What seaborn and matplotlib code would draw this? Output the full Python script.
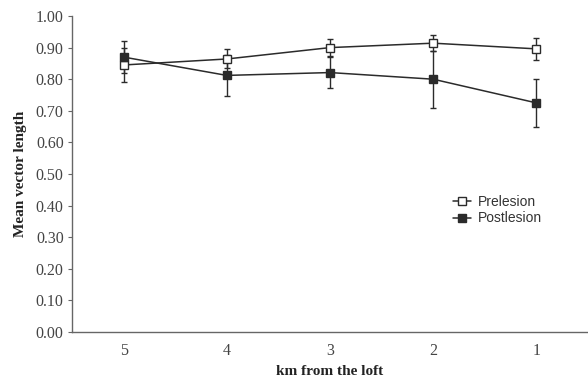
import numpy as np
import pandas as pd
import matplotlib
matplotlib.use('Agg')
import matplotlib.pyplot as plt
import seaborn as sns

km = ['5', '4', '3', '2', '1']
pre_mean = [0.845, 0.864, 0.900, 0.914, 0.896]
pre_err = [0.055, 0.030, 0.027, 0.026, 0.035]
post_mean = [0.870, 0.812, 0.821, 0.800, 0.725]
post_err = [0.050, 0.066, 0.050, 0.090, 0.077]

sns.set_style('white')
plt.rcParams['font.family'] = ['Liberation Serif', 'DejaVu Serif']

df = pd.DataFrame({
    'km': km * 2,
    'mvl': pre_mean + post_mean,
    'err': pre_err + post_err,
    'group': ['Prelesion'] * 5 + ['Postlesion'] * 5,
})

fig = plt.figure(figsize=(5.88, 3.83), dpi=100)
ax = fig.add_axes([72 / 588, 1 - 332 / 383, 1 - 72 / 588, (332 - 16) / 383])

ink = '#2b2b2b'
styles = {'Prelesion': 'white', 'Postlesion': ink}
for name, face in styles.items():
    sub = df[df['group'] == name]
    ax.errorbar(sub['km'], sub['mvl'], yerr=sub['err'], fmt='none',
                ecolor=ink, elinewidth=1.0, capsize=2.5, capthick=1.0, zorder=2)
for name, face in styles.items():
    sub = df[df['group'] == name]
    sns.lineplot(data=sub, x='km', y='mvl', ax=ax, color=ink, lw=1.1,
                 marker='s', markersize=6, markerfacecolor=face,
                 markeredgecolor=ink, markeredgewidth=1.0, label=name,
                 sort=False, zorder=3)

ax.set_xlim(-0.5, 4.5)
ax.set_ylim(0, 1.0)
ax.set_yticks(np.arange(0, 1.01, 0.1))
ax.set_yticklabels([f'{v:.2f}' for v in np.arange(0, 1.01, 0.1)])
ax.set_xticks(range(5))
ax.set_xticklabels(km)
ax.set_xticks(np.arange(0.5, 4.6, 1.0), minor=True)
ax.tick_params(axis='x', which='major', length=0, pad=8, labelsize=11.5, colors='#444')
ax.tick_params(axis='x', which='minor', length=3, width=0.8, color='#666', direction='inout')
ax.tick_params(axis='y', length=3, width=0.8, color='#666', pad=3, labelsize=11.5, labelcolor='#444', left=True)

for s in ['top', 'right']:
    ax.spines[s].set_visible(False)
for s in ['left', 'bottom']:
    ax.spines[s].set_color('#666')
    ax.spines[s].set_linewidth(1.0)

ax.set_xlabel('km from the loft', fontsize=11, fontweight='bold', labelpad=4, color='#222')
ax.set_ylabel('Mean vector length', fontsize=11, fontweight='bold', labelpad=6, color='#222')

leg = ax.legend(loc='center left', bbox_to_anchor=(0.728, 0.385), frameon=False,
                prop={'family': 'Liberation Sans', 'size': 10}, handlelength=1.3,
                handletextpad=0.45, labelspacing=0.15, borderaxespad=0)
for t in leg.get_texts():
    t.set_color('#333')

fig.savefig('out.png', dpi=100)
